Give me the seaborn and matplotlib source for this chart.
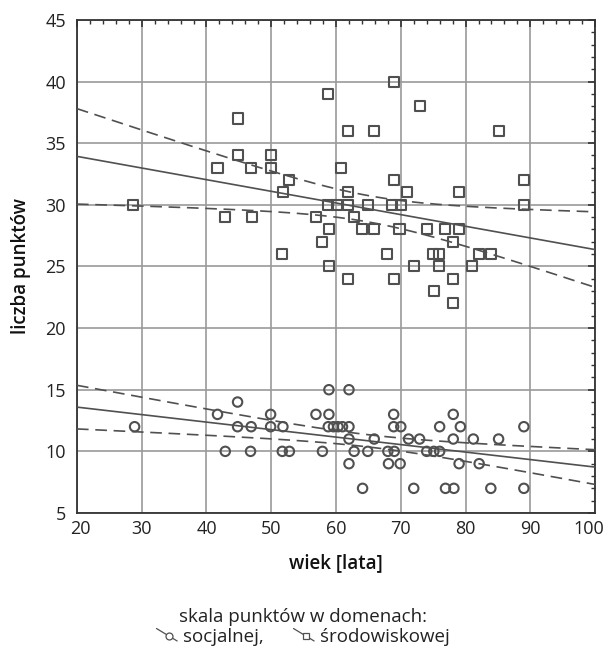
import numpy as np
import pandas as pd
import matplotlib
matplotlib.use("Agg")
import matplotlib.pyplot as plt
import matplotlib.transforms as mtrans
import seaborn as sns
from matplotlib.lines import Line2D
from matplotlib.legend_handler import HandlerLine2D
from matplotlib.ticker import MultipleLocator

# domena srodowiskowa (kwadraty): wiek, punkty
wiek_srod = [68.9, 58.8, 72.9, 44.8,
             61.9, 65.8, 85.1,
             44.8, 49.9,
             41.7, 46.9, 49.9, 60.8,
             52.8, 68.9, 89.0,
             51.8, 61.8, 71.0, 79.0,
             28.7, 58.7, 60.2, 61.9, 64.9, 68.7, 70.0, 89.0,
             42.8, 47.0, 56.9, 62.8,
             58.9, 64.0, 65.9, 69.8, 74.0, 76.9, 79.0,
             57.9, 78.0,
             51.7, 67.9, 75.0, 75.9, 82.0, 83.9,
             58.9, 72.0, 75.9, 81.0,
             61.9, 68.9, 78.0,
             75.1, 78.0]
pkt_srod = [40, 39, 38, 37,
            36, 36, 36,
            34, 34,
            33, 33, 33, 33,
            32, 32, 32,
            31, 31, 31, 31,
            30, 30, 30, 30, 30, 30, 30, 30,
            29, 29, 29, 29,
            28, 28, 28, 28, 28, 28, 28,
            27, 27,
            26, 26, 26, 26, 26, 26,
            25, 25, 25, 25,
            24, 24, 24,
            23, 22]

# domena socjalna (kolka)
wiek_soc = [58.9, 62.0,
            44.8,
            41.7, 49.9, 56.9, 58.9, 68.9, 78.1,
            28.9, 44.8, 46.9, 49.9, 51.8, 58.8, 59.6, 60.3, 61.0, 62.0, 68.9, 70.0, 76.0, 79.2, 89.0,
            62.0, 65.9, 71.2, 72.9, 78.1, 81.2, 85.1,
            42.9, 46.8, 51.7, 52.8, 57.9, 62.8, 64.9, 68.0, 69.0, 74.0, 75.1, 76.0,
            62.0, 68.1, 69.9, 79.0, 82.1,
            64.1, 72.0, 76.9, 78.2, 83.9, 89.0]
pkt_soc = [15, 15,
           14,
           13, 13, 13, 13, 13, 13,
           12, 12, 12, 12, 12, 12, 12, 12, 12, 12, 12, 12, 12, 12, 12,
           11, 11, 11, 11, 11, 11, 11,
           10, 10, 10, 10, 10, 10, 10, 10, 10, 10, 10, 10,
           9, 9, 9, 9, 9,
           7, 7, 7, 7, 7, 7]

kolor = "#505050"

sns.set_theme(style="white")
plt.rcParams['font.family'] = ['Open Sans', 'DejaVu Sans']

fig = plt.figure(figsize=(6.06, 6.54), dpi=100)
ax = fig.add_axes([0.127, 0.2156, 0.855, 0.754])


def linia_regresji(x, y, t=2.0):
    # prosta MNK + przedzial ufnosci sredniej
    x = np.asarray(x, float)
    y = np.asarray(y, float)
    n = len(x)
    b, a = np.polyfit(x, y, 1)
    reszty = y - (a + b * x)
    s = np.sqrt(np.sum(reszty ** 2) / (n - 2))
    sxx = np.sum((x - x.mean()) ** 2)
    xs = np.linspace(20, 100, 200)
    ys = a + b * xs
    d = t * s * np.sqrt(1.0 / n + (xs - x.mean()) ** 2 / sxx)
    return xs, ys, ys - d, ys + d


for wx, wy in [(wiek_srod, pkt_srod), (wiek_soc, pkt_soc)]:
    xs, ys, lo, hi = linia_regresji(wx, wy)
    ax.plot(xs, ys, color=kolor, lw=1.2, zorder=3)
    ax.plot(xs, lo, color=kolor, lw=1.2, ls=(0, (7, 4)), zorder=3)
    ax.plot(xs, hi, color=kolor, lw=1.2, ls=(0, (7, 4)), zorder=3)

sns.scatterplot(x=wiek_srod, y=pkt_srod, marker='s', s=52, fc='none',
                ec=kolor, linewidth=1.5, ax=ax, zorder=4)
sns.scatterplot(x=wiek_soc, y=pkt_soc, marker='o', s=46, fc='none',
                ec=kolor, linewidth=1.5, ax=ax, zorder=4)

ax.set_xlim(20, 100)
ax.set_ylim(5, 45)
ax.xaxis.set_major_locator(MultipleLocator(10))
ax.xaxis.set_minor_locator(MultipleLocator(2))
ax.yaxis.set_major_locator(MultipleLocator(5))
ax.yaxis.set_minor_locator(MultipleLocator(1))
ax.grid(True, which='major', color='#9a9a9a', lw=1.2)
ax.set_axisbelow(True)
ax.tick_params(which='both', direction='in', top=True, right=True,
               color='#333333', labelsize=13, labelcolor='#222222')
ax.tick_params(which='major', length=5, width=1.2)
ax.tick_params(which='minor', length=3, width=1.0)
ax.tick_params(axis='x', which='major', pad=5)
ax.tick_params(axis='y', which='major', pad=8)
for sp in ax.spines.values():
    sp.set_color('#333333')
    sp.set_linewidth(1.3)

# skrajne etykiety osi x lekko do srodka, jak w oryginale
locs = ax.xaxis.get_majorticklocs()
for loc, tick in zip(locs, ax.xaxis.get_major_ticks(len(locs))):
    dx = {20: 3, 100: -6}.get(int(round(loc)), 0)
    if dx:
        tick.label1.set_transform(tick.label1.get_transform() +
                                  mtrans.ScaledTranslation(dx / 100, 0, fig.dpi_scale_trans))

ax.set_xlabel('wiek [lata]', fontsize=13.5, fontweight='semibold', color='#111111', labelpad=11)
ax.set_ylabel('liczba punktów', fontsize=13.5, fontweight='semibold', color='#111111', labelpad=10)


class UkosnyHandler(HandlerLine2D):
    def create_artists(self, legend, orig_handle, xdescent, ydescent,
                       width, height, fontsize, trans):
        x0, x1 = -xdescent, -xdescent + width
        y0, y1 = -ydescent + height * 1.0, -ydescent + height * 0.05
        ln = Line2D([x0, x1], [y0, y1], color=kolor, lw=0.9)
        xm = x0 + 0.6 * (x1 - x0)
        ym = y0 + 0.6 * (y1 - y0)
        mk = Line2D([xm], [ym], marker=orig_handle.get_marker(),
                    mfc='white', mec=kolor, ms=5, mew=0.9, ls='')
        ln.set_transform(trans)
        mk.set_transform(trans)
        return [ln, mk]


uchwyty = [Line2D([], [], marker='o', color=kolor),
           Line2D([], [], marker='s', color=kolor)]
leg = fig.legend(uchwyty, ['socjalnej,', 'środowiskowej'], ncol=2,
                 title='skala punktów w domenach:', loc='upper center',
                 bbox_to_anchor=(0.5, 1 - 597 / 654), frameon=False,
                 fontsize=13.5, title_fontsize=13.5, handlelength=1.1,
                 handletextpad=0.3, columnspacing=1.6, labelspacing=0.1,
                 borderpad=0.1, handler_map={Line2D: UkosnyHandler()})
leg.get_title().set_color('#222222')
for t in leg.get_texts():
    t.set_color('#222222')
leg._legend_box.sep = 1

fig.savefig('out.png', dpi=100)
